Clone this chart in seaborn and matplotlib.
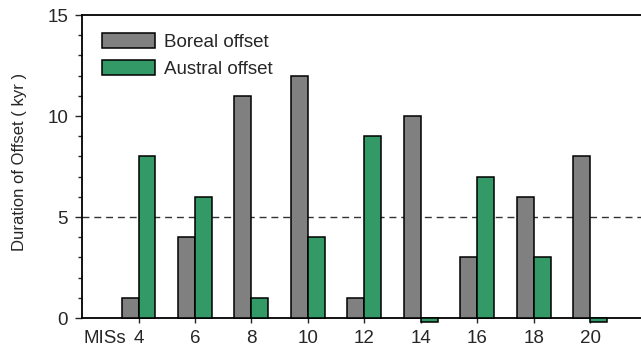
import matplotlib
matplotlib.use("Agg")
import matplotlib.pyplot as plt
from matplotlib.ticker import MultipleLocator
import seaborn as sns
import pandas as pd

# Marine isotope stages and offset durations (kyr)
mis = [4, 6, 8, 10, 12, 14, 16, 18, 20]
boreal = [1, 4, 11, 12, 1, 10, 3, 6, 8]
austral = [8, 6, 1, 4, 9, -0.2, 7, 3, -0.2]
series = ["Boreal offset", "Austral offset"]
colors = ["#808080", "#339966"]

df = pd.DataFrame({
    "MIS": mis * 2,
    "Duration": boreal + austral,
    "Series": [series[0]] * len(mis) + [series[1]] * len(mis),
})

sns.set_style("ticks")
plt.rcParams["font.family"] = ["Liberation Sans", "DejaVu Sans"]
FS = 13.5

fig = plt.figure(figsize=(6.41, 3.56), dpi=100)
ax = fig.add_axes([0.128, 0.1067, 0.872, 0.851])

sns.barplot(data=df, x="MIS", y="Duration", hue="Series", hue_order=series,
            palette=colors, native_scale=True, width=0.6, dodge=True,
            edgecolor="black", linewidth=1.1, saturation=1, ax=ax, zorder=3)
for p in ax.patches:
    p.set_clip_on(False)

ax.axhline(5, color="#333333", linestyle=(0, (5, 3.5)), linewidth=1.0, zorder=1)

ax.set_xlim(2, 21.8)
ax.set_ylim(0, 15)
ax.set_xticks(mis)
ax.set_xticklabels([str(m) for m in mis], fontsize=FS)
ax.yaxis.set_major_locator(MultipleLocator(5))
ax.yaxis.set_minor_locator(MultipleLocator(1))
ax.tick_params(axis="y", which="major", length=5, width=1.0, labelsize=FS, pad=5)
ax.tick_params(axis="y", which="minor", length=2.8, width=1.0)
ax.tick_params(axis="x", which="major", length=3.5, width=1.0, labelsize=FS, pad=5)

ax.set_xlabel("")
ax.set_ylabel("Duration of Offset ( kyr )", fontsize=12)
ax.yaxis.set_label_coords(-0.099, 0.515)
ax.annotate("MISs", xy=(0.002, 0), xycoords="axes fraction",
            xytext=(0, -8.5), textcoords="offset points",
            fontsize=FS, ha="left", va="top")

for side in ["left", "bottom", "top"]:
    ax.spines[side].set_visible(True)
    ax.spines[side].set_linewidth(1.3)
    ax.spines[side].set_color("black")
ax.spines["right"].set_visible(False)

ax.legend(loc="upper left", bbox_to_anchor=(0.022, 0.964), borderaxespad=0,
          frameon=False, fontsize=FS, handlelength=2.83, handleheight=0.8,
          labelspacing=0.49, handletextpad=0.5)

fig.savefig("out.png", dpi=100)
